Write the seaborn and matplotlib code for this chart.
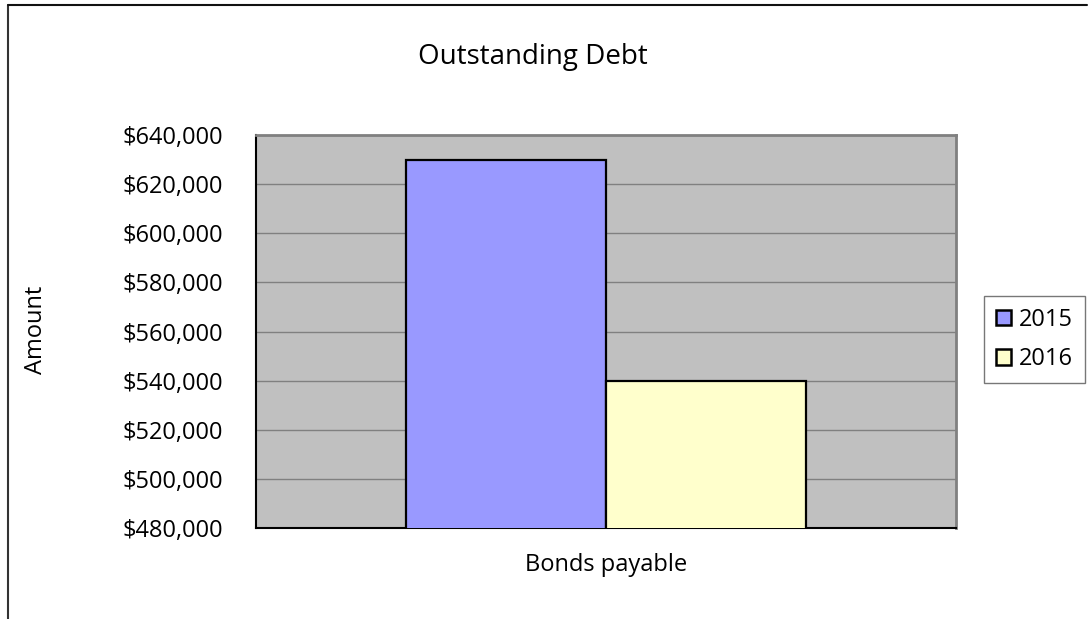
import matplotlib
matplotlib.use("Agg")
import matplotlib.pyplot as plt
import matplotlib.ticker as mticker
from matplotlib.lines import Line2D
from matplotlib.patches import Patch
import seaborn as sns
import pandas as pd

# Data
categories = ["Bonds payable"]
years = ["2015", "2016"]
amounts_2015 = [630000]
amounts_2016 = [540000]
bar_colors = ["#9999FF", "#FFFFCC"]

df = pd.DataFrame({
    "Category": categories * 2,
    "Year": [years[0]] * len(categories) + [years[1]] * len(categories),
    "Amount": amounts_2015 + amounts_2016,
})

sns.set_theme(style="white")
plt.rcParams["font.family"] = ["Open Sans", "DejaVu Sans"]
plt.rcParams["text.color"] = "black"
plt.rcParams["axes.labelcolor"] = "black"

fig = plt.figure(figsize=(10.9, 6.19), dpi=100)
ax = fig.add_axes([256 / 1090, 1 - 528 / 619, 700 / 1090, 393 / 619])
ax.set_facecolor("#C0C0C0")

sns.barplot(data=df, x="Category", y="Amount", hue="Year",
            palette=bar_colors, width=0.572, edgecolor="black",
            linewidth=1.6, saturation=1, ax=ax, legend=False, zorder=3)

ax.set_xlim(-0.5, 0.5)
ax.set_ylim(480000, 640000)
ax.yaxis.set_major_locator(mticker.MultipleLocator(20000))
ax.yaxis.set_major_formatter(mticker.FuncFormatter(lambda v, p: f"${v:,.0f}"))
ax.grid(axis="y", color="#808080", linewidth=1.0, zorder=1)
ax.set_axisbelow(True)

for side in ["top", "right"]:
    ax.spines[side].set_color("#808080")
    ax.spines[side].set_linewidth(2)
for side in ["left", "bottom"]:
    ax.spines[side].set_color("black")
    ax.spines[side].set_linewidth(1.5)

ax.set_xticks([-0.5, 0.5])
ax.set_xticklabels(["", ""])
ax.tick_params(axis="x", which="both", direction="out", length=7, color="#808080", width=1)
ax.tick_params(axis="y", direction="out", length=7, color="#808080", width=1,
               labelsize=17, pad=17, labelcolor="black")
ax.set_xlabel("")
ax.set_ylabel("")

fig.text(606 / 1090, 1 - 565 / 619, categories[0], ha="center", va="center", fontsize=17, color="black")
fig.text(36 / 1090, 1 - 330 / 619, "Amount", ha="center", va="center", rotation=90, fontsize=17, color="black")
fig.text(533 / 1090, 1 - 57 / 619, "Outstanding Debt", ha="center", va="center", fontsize=20, color="black")

# Outer chart frame
fig.add_artist(Line2D([8 / 1090, 8 / 1090], [0, 1 - 5 / 619], transform=fig.transFigure,
                      color="#333333", linewidth=1.5))
fig.add_artist(Line2D([8 / 1090, 1087 / 1090], [1 - 5 / 619, 1 - 5 / 619], transform=fig.transFigure,
                      color="#111111", linewidth=1.5))

handles = [Patch(facecolor=c, edgecolor="black", linewidth=1.8, label=y)
           for c, y in zip(bar_colors, years)]
leg = fig.legend(handles=handles, loc="upper left",
                 bbox_to_anchor=(984 / 1090, 1 - 296 / 619), frameon=True,
                 fontsize=17, handlelength=0.66, handleheight=0.66, handletextpad=0.33,
                 labelspacing=0.65, borderpad=0.5, fancybox=False, borderaxespad=0)
leg.get_frame().set_edgecolor("#555555")
leg.get_frame().set_linewidth(1)
for t in leg.get_texts():
    t.set_color("black")

fig.savefig("out.png", dpi=100)
